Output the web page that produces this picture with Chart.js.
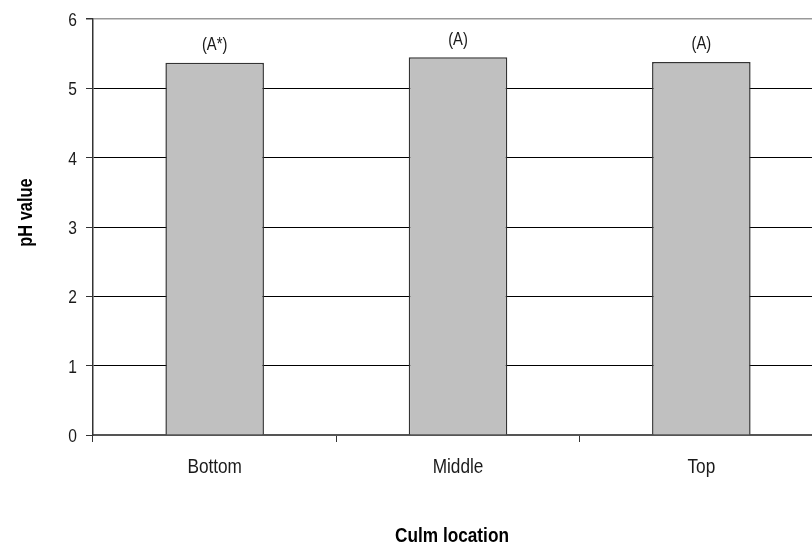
<!DOCTYPE html>
<html>
<head>
<meta charset="utf-8">
<script src="https://cdn.jsdelivr.net/npm/chart.js@4"></script>
<style>
  html, body { margin: 0; padding: 0; background: #fff; overflow: hidden; }
</style>
</head>
<body>
<canvas id="phChart" width="830" height="544"></canvas>
<script>
// culm location vs pH
const locations = ["Bottom", "Middle", "Top"];
const phValues = [5.37, 5.45, 5.38];
const groupLabels = ["(A*)", "(A)", "(A)"];
const yTicks = [0, 1, 2, 3, 4, 5, 6];

// Arial Narrow look-alike: Liberation Sans squeezed horizontally
const FONT = "'Liberation Sans', Arial, sans-serif";
function narrowText(c, text, x, y, size, bold, align, rot) {
    c.save();
    c.translate(x, y);
    if (rot) c.rotate(rot);
    c.scale(0.82, 1);
    c.font = (bold ? "bold " : "") + size + "px " + FONT;
    c.textAlign = align;
    c.textBaseline = "alphabetic";
    c.fillText(text, 0, 0);
    c.restore();
}

const textLayer = {
    id: "textLayer",
    afterDatasetsDraw(chart) {
        const c = chart.ctx;
        const xs = chart.scales.x;
        const ys = chart.scales.y;
        c.save();
        c.fillStyle = "#1a1a1a";
        // y tick labels
        yTicks.forEach(v => {
            narrowText(c, String(v), 77, ys.getPixelForValue(v) + 7, 19, false, "right");
        });
        // category labels
        locations.forEach((name, i) => {
            narrowText(c, name, xs.getPixelForValue(i), 473, 21, false, "center");
        });
        // letters above the bars
        chart.getDatasetMeta(0).data.forEach((bar, i) => {
            narrowText(c, groupLabels[i], bar.x, bar.y - 12.5, 18, false, "center");
        });
        // axis titles
        c.fillStyle = "#000";
        narrowText(c, "Culm location", 452, 542, 21, true, "center");
        narrowText(c, "pH value", 32, 212.5, 20, true, "center", -Math.PI / 2);
        c.restore();
    }
};

new Chart(document.getElementById("phChart").getContext("2d"), {
    type: "bar",
    data: {
        labels: locations,
        datasets: [{
            label: "pH value",
            data: phValues,
            backgroundColor: "#c0c0c0",
            borderColor: "#333",
            borderWidth: 1.5,
            barPercentage: 0.405,
            categoryPercentage: 1
        }]
    },
    options: {
        responsive: false,
        animation: false,
        devicePixelRatio: 1,
        layout: { padding: { top: 19, left: 0, right: 7, bottom: 0 } },
        plugins: {
            legend: { display: false },
            tooltip: { enabled: false }
        },
        scales: {
            x: {
                grid: {
                    offset: true,
                    drawOnChartArea: false,
                    drawTicks: true,
                    tickLength: 7,
                    tickColor: "#333"
                },
                border: { color: "#555", width: 2 },
                ticks: { display: false },
                afterFit(scale) { scale.height = 109; }
            },
            y: {
                min: 0,
                max: 6,
                afterBuildTicks(scale) {
                    scale.ticks = yTicks.map(v => ({ value: v }));
                },
                grid: {
                    color: ctx => (ctx.tick && ctx.tick.value === 6 ? "#999" : "#000"),
                    lineWidth: ctx => (ctx.tick && ctx.tick.value === 6 ? 1.5 : 1),
                    tickLength: 7,
                    tickColor: "#333"
                },
                border: { color: "#333", width: 1.5 },
                ticks: { display: false },
                afterFit(scale) { scale.width = 93; }
            }
        }
    },
    plugins: [textLayer]
});
</script>
</body>
</html>
